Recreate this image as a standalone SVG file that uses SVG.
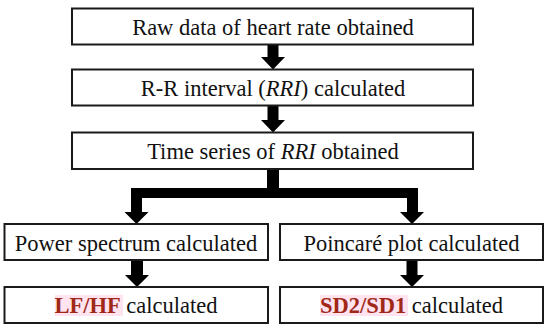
<svg xmlns="http://www.w3.org/2000/svg" width="550" height="332" viewBox="0 0 550 332">
<style>
.box{fill:#fff;stroke:#1a1a1a;stroke-width:2}
.t{font-family:"Liberation Serif","Times New Roman",serif;font-size:22.5px;fill:#111;text-anchor:middle}
.hl{font-weight:bold;fill:#a02818}
.hlbg{fill:#ffe3ee}
.arr{fill:#000}
</style>
<rect width="550" height="332" fill="#fff"/>
<g id="connectors">
<path class="arr" d="M267.5,44.5 H278.5 V57 H285 L273,69.5 L261,57 H267.5 Z"/>
<path class="arr" d="M267.5,105.5 H278.5 V120 H285 L273,132.5 L261,120 H267.5 Z"/>
<path class="arr" d="M267,169 H279 V188 H418 V212 H424 L412,224 L400,212 H407 V198 H142 V212 H148.5 L136.5,224 L124.5,212 H131 V188 H267 Z"/>
<path class="arr" d="M131,260 H143 V275 H149 L137,287 L125,275 H131 Z"/>
<path class="arr" d="M406.5,260 H417.5 V275 H424 L412,287 L400,275 H406.5 Z"/>
</g>
<g id="node1">
<rect class="box" x="72" y="8.5" width="401" height="36"/>
<text class="t" x="273" y="35">Raw data of heart rate obtained</text>
</g>
<g id="node2">
<rect class="box" x="72" y="69.5" width="401" height="36"/>
<text class="t" x="273" y="96">R-R interval (<tspan font-style="italic">RRI</tspan>) calculated</text>
</g>
<g id="node3">
<rect class="box" x="72" y="132.5" width="401" height="36.5"/>
<text class="t" x="273" y="159">Time series of <tspan font-style="italic">RRI</tspan> obtained</text>
</g>
<g id="node4">
<rect class="box" x="4.5" y="224" width="263.5" height="36"/>
<text class="t" x="136" y="250.5">Power spectrum calculated</text>
</g>
<g id="node5">
<rect class="box" x="280" y="224" width="263" height="36"/>
<text class="t" x="411.5" y="250.5">Poincaré plot calculated</text>
</g>
<g id="node6">
<rect class="box" x="4.5" y="287" width="263.5" height="36"/>
<rect class="hlbg" x="55" y="295" width="68" height="21"/>
<text class="t" x="136" y="313"><tspan class="hl">LF/HF</tspan> calculated</text>
</g>
<g id="node7">
<rect class="box" x="280" y="287" width="263" height="36"/>
<rect class="hlbg" x="320" y="295" width="88" height="21"/>
<text class="t" x="411.5" y="313"><tspan class="hl">SD2/SD1</tspan> calculated</text>
</g>
</svg>
